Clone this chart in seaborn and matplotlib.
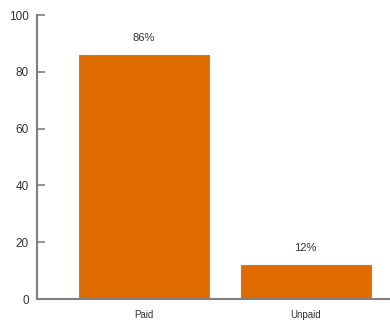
import matplotlib
matplotlib.use("Agg")
import matplotlib.pyplot as plt
import seaborn as sns
import pandas as pd

categories = ["Paid", "Unpaid"]
values = [86, 12]
labels = ["86%", "12%"]

sns.set_style("white")
plt.rcParams["font.family"] = ["Liberation Sans", "DejaVu Sans"]

df = pd.DataFrame({"status": categories, "pct": values})

fig = plt.figure(figsize=(3.9, 3.21), dpi=100)
ax = fig.add_axes([37 / 390, 1 - 299 / 321, 1 - 37 / 390, (299 - 15) / 321])

sns.barplot(data=df, x="status", y="pct", color="#E06C00", saturation=1,
            width=0.805, edgecolor="#8a8a8a", linewidth=0.8, ax=ax)

for patch, txt in zip(ax.patches, labels):
    ax.text(patch.get_x() + patch.get_width() / 2, patch.get_height() + 4.2, txt,
            ha="center", va="bottom", fontsize=8, color="#333333")

ax.set_ylim(0, 100)
ax.set_xlim(-0.663, 1.523)
ax.set_yticks([0, 20, 40, 60, 80, 100])
ax.set_xlabel("")
ax.set_ylabel("")

for side in ["top", "right"]:
    ax.spines[side].set_visible(False)
for side in ["left", "bottom"]:
    ax.spines[side].set_color("#808080")
    ax.spines[side].set_linewidth(1.5)

ax.tick_params(axis="y", direction="in", length=6, width=1.2, color="#808080",
               labelsize=8.5, labelcolor="#333333", pad=6, left=True)
ax.tick_params(axis="x", length=0, labelsize=7, labelcolor="#333333", pad=8)

fig.savefig("out.png", dpi=100)
